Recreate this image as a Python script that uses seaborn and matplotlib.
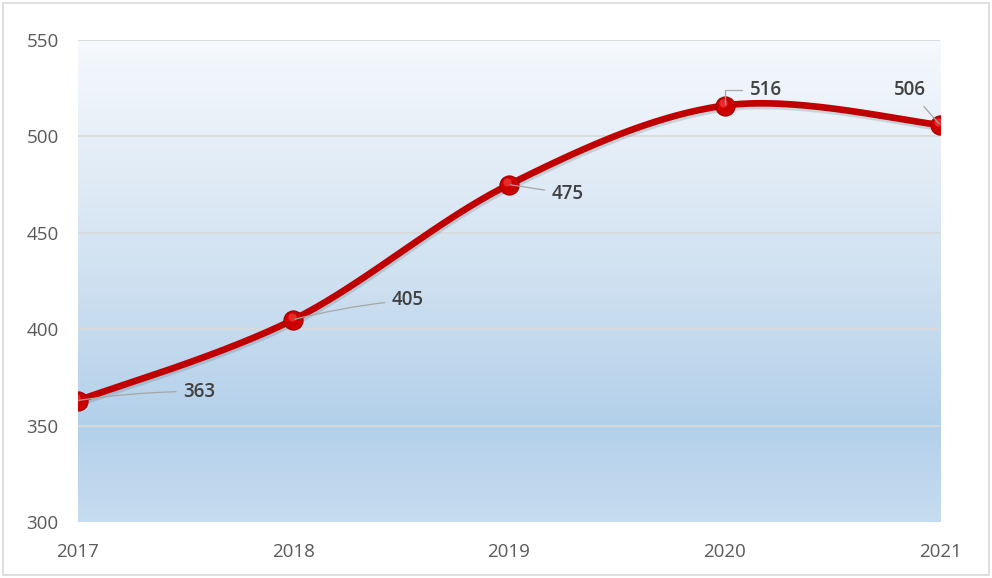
import numpy as np
import pandas as pd
import matplotlib
matplotlib.use("Agg")
import matplotlib.pyplot as plt
import matplotlib.patheffects as pe
from matplotlib.colors import LinearSegmentedColormap
from matplotlib.patches import Rectangle
import seaborn as sns

years = [2017, 2018, 2019, 2020, 2021]
values = [363, 405, 475, 516, 506]
y_ticks = [300, 350, 400, 450, 500, 550]
# data-label offsets in points (dx, dy) and text alignment
label_offsets = [(76, 6.5), (71, 14), (31, -6.5), (18, 11.5), (-22, 25)]
label_align = ["left", "left", "left", "left", "center"]
leader_styles = ["arc3,rad=0.04", "arc3,rad=0.04", "arc3,rad=0.0",
                 "angle,angleA=0,angleB=90,rad=0", "arc3,rad=0.0"]

sns.set_theme(style="white")
plt.rcParams["font.family"] = ["Open Sans", "DejaVu Sans"]

fig = plt.figure(figsize=(9.92, 5.78), dpi=100)
ax = fig.add_axes([0.0786, 0.0969, 0.869, 0.8339])

x = np.array(years, dtype=float)
y = np.array(values, dtype=float)


def smooth_curve(px, py, n=60):
    """Bezier smoothing through every point (Catmull-Rom style)."""
    pts = np.column_stack([px, py])
    ext = np.vstack([pts[0], pts, pts[-1]])
    out = []
    for i in range(1, len(ext) - 2):
        p0, p1, p2, p3 = ext[i - 1], ext[i], ext[i + 1], ext[i + 2]
        c1 = p1 + (p2 - p0) / 6.0
        c2 = p2 - (p3 - p1) / 6.0
        t = np.linspace(0, 1, n)[:, None]
        seg = ((1 - t) ** 3) * p1 + 3 * ((1 - t) ** 2) * t * c1 + 3 * (1 - t) * t ** 2 * c2 + t ** 3 * p2
        out.append(seg if i == 1 else seg[1:])
    curve = np.vstack(out)
    return curve[:, 0], curve[:, 1]


sx, sy = smooth_curve(x, y)

# plot-area background gradient
cmap = LinearSegmentedColormap.from_list(
    "bg", [(0.0, "#f6f9fd"), (0.45, "#d3e3f2"), (0.8, "#b3d0ea"), (1.0, "#c6dcf0")])
grad = np.linspace(0, 1, 256)[:, None]
ax.imshow(grad, aspect="auto", cmap=cmap, extent=[2017, 2021, 300, 550],
          origin="upper", zorder=0)

for v in y_ticks[1:]:
    ax.axhline(v, color="#d9d9d9", lw=1.3, zorder=1)

curve_df = pd.DataFrame({"year": sx, "value": sy})
sns.lineplot(data=curve_df, x="year", y="value", ax=ax, color="#c00000",
             lw=4.8, sort=False, zorder=3,
             path_effects=[pe.SimpleLineShadow(offset=(0.8, -2.0), shadow_color="#000000", alpha=0.12),
                           pe.Normal()])

pts_df = pd.DataFrame({"year": years, "value": values})
sns.scatterplot(data=pts_df, x="year", y="value", ax=ax, s=190, color="#cc0000",
                edgecolor="#a00000", linewidth=0.8, zorder=4)
ax.scatter(x - 0.008, y + 1.5, s=35, color="#ff5050", alpha=0.55, zorder=5, linewidths=0)

for xi, yi, (dx, dy), ha, cs in zip(x, y, label_offsets, label_align, leader_styles):
    ax.annotate(f"{int(yi)}", xy=(xi, yi), xytext=(dx, dy), textcoords="offset points",
                ha=ha, va="center", fontsize=13.5,
                fontweight="semibold", color="#404040", zorder=6,
                arrowprops=dict(arrowstyle="-", color="#a6a6a6", lw=0.9,
                                shrinkA=3, shrinkB=1, connectionstyle=cs))

ax.set_xlim(2017, 2021)
ax.set_ylim(300, 550)
ax.set_xticks(years)
ax.set_xticklabels([str(v) for v in years])
ax.set_yticks(y_ticks)
ax.set_yticklabels([str(v) for v in y_ticks])
ax.tick_params(axis="both", labelsize=13.5, colors="#595959", length=0)
ax.tick_params(axis="x", pad=15)
ax.tick_params(axis="y", pad=14)
ax.set_xlabel("")
ax.set_ylabel("")
for s in ax.spines.values():
    s.set_visible(False)

fig.patches.append(Rectangle((3 / 992, 3 / 578), 986 / 992, 572 / 578, transform=fig.transFigure,
                             fill=False, edgecolor="#d9d9d9", lw=1.2))

fig.savefig("out.png", dpi=100)
